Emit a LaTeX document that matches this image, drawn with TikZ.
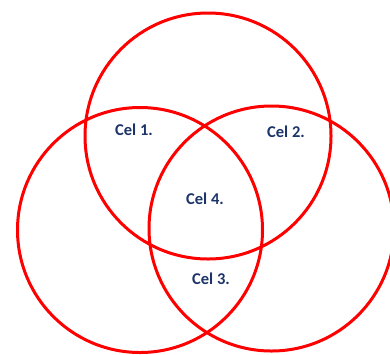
\documentclass[tikz,border=0pt]{standalone}
\usepackage{fontspec}
\setmainfont{Carlito}
\definecolor{navy}{RGB}{28,52,105}
\begin{document}
\begin{tikzpicture}[x=1pt,y=-1pt,
  ring/.style={draw=red,line width=3pt},
  lbl/.style={text=navy,font=\fontsize{16.5}{18}\selectfont\bfseries,inner sep=0pt}]
\useasboundingbox (0,0) rectangle (390,354);
\clip (0,0) rectangle (390,354);
\node[ring,circle,minimum size=246pt,inner sep=0pt] (top) at (208,136) {};
\node[ring,circle,minimum size=245pt,inner sep=0pt] (left) at (140,230) {};
\node[ring,circle,minimum size=245pt,inner sep=0pt] (right) at (271.5,228.5) {};
\node[lbl] (c1) at (134,130) {Cel 1.};
\node[lbl] (c2) at (286,132) {Cel 2.};
\node[lbl] (c4) at (205,199) {Cel 4.};
\node[lbl] (c3) at (211,279) {Cel 3.};
\end{tikzpicture}
\end{document}
